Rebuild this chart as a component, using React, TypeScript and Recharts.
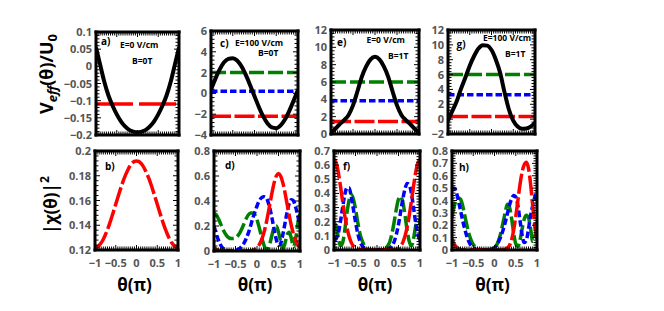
import React from 'react';
import { LineChart, Line, XAxis, YAxis, ReferenceLine } from 'recharts';

// ---------- data ----------
const X_TOP = [-1, -0.9, -0.8, -0.7, -0.6, -0.5, -0.4, -0.3, -0.2, -0.1, 0, 0.1, 0.2, 0.3, 0.4, 0.5, 0.6, 0.7, 0.8, 0.9, 1];
const X_BOT = [-1, -0.95, -0.9, -0.85, -0.8, -0.75, -0.7, -0.65, -0.6, -0.55, -0.5, -0.45, -0.4, -0.35, -0.3, -0.25, -0.2, -0.15, -0.1, -0.05, 0,
  0.05, 0.1, 0.15, 0.2, 0.25, 0.3, 0.35, 0.4, 0.45, 0.5, 0.55, 0.6, 0.65, 0.7, 0.75, 0.8, 0.85, 0.9, 0.95, 1];

// panel a (E=0, B=0)
const A_BLACK = [0.055, 0.005, -0.045, -0.085, -0.115, -0.14, -0.16, -0.175, -0.185, -0.19, -0.192, -0.19, -0.185, -0.175, -0.16, -0.14, -0.115, -0.085, -0.045, 0.005, 0.055];
const A_LEVELS = { red: -0.11 };
// panel c (E=100, B=0)
const C_BLACK = [0.37, 1.4, 2.31, 2.99, 3.32, 3.38, 3.17, 2.61, 1.78, 0.79, -0.27, -1.3, -2.21, -2.89, -3.27, -3.34, -3.07, -2.51, -1.68, -0.69, 0.37];
const C_LEVELS = { green: 2.0, blue: 0.2, red: -2.2 };
// panel e (E=0, B=1T)
const E_BLACK = [0.15, 0.6, 1.15, 1.6, 2.2, 3.3, 4.9, 6.6, 7.8, 8.6, 8.9, 8.6, 7.8, 6.6, 4.9, 3.3, 2.2, 1.6, 1.15, 0.6, 0.15];
const E_LEVELS = { green: 6.0, blue: 3.85, red: 1.45 };
// panel g (E=100, B=1T)
const G_BLACK = [-0.2, 1.1, 2.4, 4.1, 5.6, 7.2, 8.5, 9.5, 9.95, 9.9, 9.3, 8.0, 6.2, 3.6, 1.3, -0.2, -1.0, -1.3, -1.25, -1.0, -0.5];
const G_LEVELS = { green: 6.0, blue: 3.3, red: 0.35 };

// panel b
const B_RED = [0.122, 0.1225, 0.1237, 0.1258, 0.1287, 0.1323, 0.1364, 0.1411, 0.1462, 0.1515, 0.157, 0.1625, 0.1678, 0.1729, 0.1776, 0.1817, 0.1853, 0.1882, 0.1903, 0.1916, 0.192,
  0.1916, 0.1903, 0.1882, 0.1853, 0.1817, 0.1776, 0.1729, 0.1678, 0.1625, 0.157, 0.1515, 0.1462, 0.1411, 0.1364, 0.1323, 0.1287, 0.1258, 0.1237, 0.1225, 0.122];
// panel d
const D_RED = [0.027, 0.014, 0.007, 0.003, 0.002, 0.001, 0.001, 0.001, 0.001, 0.001, 0.001, 0.001, 0.001, 0.001, 0.001, 0.001, 0.002, 0.003, 0.007, 0.014, 0.027,
  0.049, 0.084, 0.134, 0.201, 0.284, 0.376, 0.468, 0.547, 0.6, 0.62, 0.6, 0.547, 0.468, 0.376, 0.284, 0.201, 0.134, 0.084, 0.049, 0.027];
const D_BLUE = [0.2, 0.14, 0.09, 0.05, 0.025, 0.01, 0.004, 0.002, 0.002, 0.003, 0.006, 0.012, 0.022, 0.04, 0.065, 0.1, 0.145, 0.2, 0.26, 0.31, 0.36,
  0.4, 0.425, 0.435, 0.43, 0.4, 0.34, 0.26, 0.17, 0.09, 0.045, 0.06, 0.13, 0.22, 0.31, 0.38, 0.41, 0.4, 0.35, 0.28, 0.2];
const D_GREEN = [0.3, 0.29, 0.26, 0.22, 0.18, 0.145, 0.12, 0.105, 0.1, 0.1, 0.105, 0.12, 0.145, 0.18, 0.22, 0.26, 0.29, 0.305, 0.305, 0.29, 0.25,
  0.19, 0.12, 0.06, 0.02, 0.02, 0.06, 0.13, 0.19, 0.2, 0.15, 0.08, 0.02, 0.06, 0.13, 0.15, 0.1, 0.03, 0.1, 0.22, 0.3];
// panel f
const F_RED = [0.64, 0.616, 0.549, 0.452, 0.345, 0.244, 0.16, 0.097, 0.054, 0.028, 0.013, 0.006, 0.003, 0.001, 0.001, 0.001, 0.001, 0.001, 0.001, 0.001, 0.001,
  0.001, 0.001, 0.001, 0.001, 0.001, 0.001, 0.001, 0.003, 0.006, 0.013, 0.028, 0.054, 0.097, 0.16, 0.244, 0.345, 0.452, 0.549, 0.616, 0.64];
const F_BLUE = [0.07, 0.08, 0.12, 0.2, 0.3, 0.39, 0.44, 0.44, 0.38, 0.29, 0.2, 0.12, 0.065, 0.032, 0.014, 0.005, 0.002, 0.001, 0.001, 0.001, 0.001,
  0.001, 0.001, 0.001, 0.002, 0.005, 0.014, 0.03, 0.06, 0.11, 0.18, 0.27, 0.36, 0.43, 0.47, 0.46, 0.4, 0.3, 0.19, 0.11, 0.07];
const F_GREEN = [0.19, 0.17, 0.09, 0.03, 0.05, 0.14, 0.26, 0.35, 0.39, 0.36, 0.29, 0.2, 0.12, 0.07, 0.035, 0.015, 0.006, 0.003, 0.002, 0.001, 0.001,
  0.001, 0.002, 0.005, 0.012, 0.03, 0.06, 0.12, 0.2, 0.29, 0.36, 0.38, 0.34, 0.25, 0.14, 0.06, 0.03, 0.08, 0.17, 0.21, 0.19];
// panel h
const H_RED = [0.09, 0.05, 0.025, 0.012, 0.005, 0.002, 0.001, 0.001, 0.001, 0.001, 0.001, 0.001, 0.001, 0.001, 0.001, 0.001, 0.001, 0.001, 0.001, 0.001, 0.001,
  0.001, 0.001, 0.001, 0.002, 0.005, 0.015, 0.035, 0.08, 0.16, 0.27, 0.4, 0.53, 0.63, 0.69, 0.71, 0.66, 0.53, 0.35, 0.19, 0.09];
const H_BLUE = [0.48, 0.5, 0.47, 0.4, 0.32, 0.24, 0.17, 0.11, 0.065, 0.035, 0.017, 0.008, 0.003, 0.002, 0.001, 0.001, 0.002, 0.003, 0.006, 0.01, 0.02,
  0.04, 0.07, 0.11, 0.16, 0.22, 0.29, 0.36, 0.41, 0.44, 0.43, 0.36, 0.24, 0.12, 0.06, 0.08, 0.17, 0.28, 0.36, 0.43, 0.48];
const H_GREEN = [0.27, 0.35, 0.4, 0.42, 0.41, 0.36, 0.28, 0.2, 0.13, 0.08, 0.045, 0.025, 0.012, 0.006, 0.003, 0.002, 0.002, 0.003, 0.005, 0.01, 0.02,
  0.04, 0.08, 0.14, 0.22, 0.3, 0.37, 0.35, 0.26, 0.14, 0.05, 0.03, 0.08, 0.17, 0.25, 0.28, 0.26, 0.17, 0.07, 0.1, 0.27];

// tick labels
const X_MAJOR = [-1, -0.5, 0, 0.5, 1];
const A_TICKS = [-0.2, -0.15, -0.1, -0.05, 0, 0.05, 0.1];
const C_TICKS = [-4, -2, 0, 2, 4, 6];
const E_TICKS = [0, 2, 4, 6, 8, 10, 12];
const G_TICKS = [-2, 0, 2, 4, 6, 8, 10, 12];
const B_TICKS = [0.12, 0.14, 0.16, 0.18, 0.2];
const D_TICKS = [0, 0.2, 0.4, 0.6, 0.8];
const F_TICKS = [0, 0.1, 0.2, 0.3, 0.4, 0.5, 0.6, 0.7];
const H_TICKS = [0, 0.1, 0.2, 0.3, 0.4, 0.5, 0.6, 0.7, 0.8];

// ---------- styling ----------
const FONT = "'Open Sans', 'Noto Sans', sans-serif";
const TICK_STYLE: React.CSSProperties = { fontFamily: FONT, fontSize: 11, fontWeight: 700, fill: '#555' };
const RED = '#ff0000';
const BLUE = '#0000ff';
const GREEN = '#008000';
const RED_DASH = '20 3.5';
const BLUE_DASH = '6.5 3';
const GREEN_DASH = '15 4';
const ML = 40, MR = 4, MT = 10, MB = 22;
const FRAME = { stroke: '#000', strokeWidth: 3, strokeLinecap: 'square' as const };

const fmt = (v: number) => String(v).replace('-', '\u2212');
const near = (v: number, arr: number[]) => arr.some((m) => Math.abs(m - v) < 1e-7);
const steps = (lo: number, hi: number, st: number) => {
  const out: number[] = [];
  const n = Math.round((hi - lo) / st);
  for (let i = 0; i <= n; i++) out.push(Number((lo + i * st).toFixed(6)));
  return out;
};

type Series = { key: string; values: number[]; color: string; dash?: string; width: number };
type Level = { y: number; color: string; dash: string };

interface PanelProps {
  left: number; top: number; w: number; h: number;
  xs: number[];
  series: Series[];
  levels?: Level[];
  yDomain: [number, number];
  yTicks: number[];
  yMinor: number;
  showX: boolean;
}

function Panel(p: PanelProps) {
  const data = p.xs.map((x, i) => {
    const row: Record<string, number> = { x };
    p.series.forEach((s) => { row[s.key] = s.values[i]; });
    return row;
  });
  const xAll = steps(-1, 1, 0.05);
  const yAll = steps(p.yDomain[0], p.yDomain[1], p.yMinor);

  const xTick = (side: 'bottom' | 'top', labels: boolean) => (props: any) => {
    const { x, y, payload } = props;
    const v = payload.value;
    const major = near(v, X_MAJOR);
    const len = major ? 5 : 3.5;
    const d = side === 'bottom' ? -1 : 1;
    return (
      <g>
        <line x1={x} x2={x} y1={y} y2={y + d * len} stroke="#000" strokeWidth={1} />
        {labels && major ? <text x={x} y={y + 17} textAnchor="middle" style={TICK_STYLE}>{fmt(v)}</text> : null}
      </g>
    );
  };
  const yTick = (side: 'left' | 'right') => (props: any) => {
    const { x, y, payload } = props;
    const v = payload.value;
    const major = near(v, p.yTicks);
    const len = major ? 5 : 3.5;
    const d = side === 'left' ? 1 : -1;
    return (
      <g>
        <line x1={x} x2={x + d * len} y1={y} y2={y} stroke="#000" strokeWidth={1} />
        {side === 'left' && major ? <text x={x - 4} y={y + 4} textAnchor="end" style={TICK_STYLE}>{fmt(v)}</text> : null}
      </g>
    );
  };

  return (
    <div style={{ position: 'absolute', left: p.left - ML, top: p.top - MT }}>
      <LineChart width={p.w + ML + MR} height={p.h + MT + MB} data={data} margin={{ top: 0, right: 0, bottom: 0, left: 0 }}>
        <XAxis xAxisId="b" dataKey="x" type="number" domain={[-1, 1]} ticks={xAll} interval={0} height={MB}
          tickSize={0} tickMargin={0} tickLine={false} axisLine={FRAME} tick={xTick('bottom', p.showX)} allowDataOverflow />
        <XAxis xAxisId="t" orientation="top" dataKey="x" type="number" domain={[-1, 1]} ticks={xAll} interval={0} height={MT}
          tickSize={0} tickMargin={0} tickLine={false} axisLine={FRAME} tick={xTick('top', false)} allowDataOverflow />
        <YAxis yAxisId="l" type="number" domain={p.yDomain} ticks={yAll} interval={0} width={ML}
          tickSize={0} tickMargin={0} tickLine={false} axisLine={FRAME} tick={yTick('left')} allowDataOverflow />
        <YAxis yAxisId="r" orientation="right" type="number" domain={p.yDomain} ticks={yAll} interval={0} width={MR}
          tickSize={0} tickMargin={0} tickLine={false} axisLine={FRAME} tick={yTick('right')} allowDataOverflow />
        {(p.levels || []).map((l, i) => (
          <ReferenceLine key={'l' + i} xAxisId="b" yAxisId="l" y={l.y} stroke={l.color} strokeWidth={3.5} strokeDasharray={l.dash} />
        ))}
        {p.series.map((s) => (
          <Line key={s.key} xAxisId="b" yAxisId="l" type="monotone" dataKey={s.key} stroke={s.color} strokeWidth={s.width}
            strokeDasharray={s.dash} dot={false} activeDot={false} isAnimationActive={false} />
        ))}
      </LineChart>
    </div>
  );
}

const black = (v: number[]): Series => ({ key: 'black', values: v, color: '#000', width: 4 });
const lv = (L: { green?: number; blue?: number; red?: number }): Level[] => {
  const out: Level[] = [];
  if (L.green !== undefined) out.push({ y: L.green, color: GREEN, dash: GREEN_DASH });
  if (L.blue !== undefined) out.push({ y: L.blue, color: BLUE, dash: BLUE_DASH });
  if (L.red !== undefined) out.push({ y: L.red, color: RED, dash: RED_DASH });
  return out;
};
const psi = (r: number[], b?: number[], g?: number[]): Series[] => {
  const out: Series[] = [];
  if (g) out.push({ key: 'green', values: g, color: GREEN, dash: GREEN_DASH, width: 3.5 });
  if (b) out.push({ key: 'blue', values: b, color: BLUE, dash: BLUE_DASH, width: 3.5 });
  out.push({ key: 'red', values: r, color: RED, dash: RED_DASH, width: 3.5 });
  return out;
};

const NOTES = [
  { t: 'a)', x: 101, y: 45, s: 10 }, { t: 'E=0 V/cm', x: 120, y: 48, s: 8.5 }, { t: 'B=0T', x: 132, y: 64, s: 8.5 },
  { t: 'c)', x: 220, y: 47, s: 10 }, { t: 'E=100 V/cm', x: 235, y: 46, s: 8.5 }, { t: 'B=0T', x: 258, y: 56, s: 8.5 },
  { t: 'e)', x: 337, y: 45.5, s: 10 }, { t: 'E=0 V/cm', x: 366.5, y: 42.5, s: 8.5 }, { t: 'B=1T', x: 388, y: 59, s: 8.5 },
  { t: 'g)', x: 456.5, y: 48, s: 10 }, { t: 'E=100 V/cm', x: 483, y: 41, s: 8.5 }, { t: 'B=1T', x: 505, y: 56.5, s: 8.5 },
  { t: 'b)', x: 105, y: 169.5, s: 10 }, { t: 'd)', x: 225, y: 168.5, s: 10 }, { t: 'f)', x: 343, y: 170, s: 10 }, { t: 'h)', x: 459, y: 170.5, s: 10 },
];
const X_TITLES = [134.5, 255, 375, 492.5];

export default function App() {
  return (
    <div style={{ position: 'absolute', left: 0, top: 0, width: 664, height: 311, background: '#fff', overflow: 'hidden' }}>
      <Panel left={96} top={32} w={83} h={103} xs={X_TOP} series={[black(A_BLACK)]}
        levels={[{ y: A_LEVELS.red, color: RED, dash: '37 6' }]} yDomain={[-0.2, 0.1]} yTicks={A_TICKS} yMinor={0.01} showX={false} />
      <Panel left={211} top={31} w={87} h={104} xs={X_TOP} series={[black(C_BLACK)]} levels={lv(C_LEVELS)}
        yDomain={[-4, 6]} yTicks={C_TICKS} yMinor={0.4} showX={false} />
      <Panel left={331} top={29.5} w={88} h={104} xs={X_TOP} series={[black(E_BLACK)]} levels={lv(E_LEVELS)}
        yDomain={[0, 12]} yTicks={E_TICKS} yMinor={0.4} showX={false} />
      <Panel left={448} top={29.5} w={87} h={104} xs={X_TOP} series={[black(G_BLACK)]} levels={lv(G_LEVELS)}
        yDomain={[-2, 12]} yTicks={G_TICKS} yMinor={0.4} showX={false} />

      <Panel left={95} top={151} w={83} h={99} xs={X_BOT} series={psi(B_RED)}
        yDomain={[0.12, 0.2]} yTicks={B_TICKS} yMinor={0.004} showX={true} />
      <Panel left={214} top={151} w={86} h={100} xs={X_BOT} series={psi(D_RED, D_BLUE, D_GREEN)}
        yDomain={[0, 0.8]} yTicks={D_TICKS} yMinor={0.04} showX={true} />
      <Panel left={334} top={151} w={86} h={99} xs={X_BOT} series={psi(F_RED, F_BLUE, F_GREEN)}
        yDomain={[0, 0.7]} yTicks={F_TICKS} yMinor={0.02} showX={true} />
      <Panel left={452} top={151} w={85} h={99} xs={X_BOT} series={psi(H_RED, H_BLUE, H_GREEN)}
        yDomain={[0, 0.8]} yTicks={H_TICKS} yMinor={0.02} showX={true} />

      <svg width={664} height={311} style={{ position: 'absolute', left: 0, top: 0, pointerEvents: 'none' }}>
        <text transform="translate(53,74) rotate(-90)" textAnchor="middle" fontFamily={FONT} fontWeight={700} fontSize={18} fill="#000">
          V<tspan fontSize={13} fontStyle="italic" dy={4}>eff</tspan><tspan dy={-4}>(θ)/U</tspan><tspan fontSize={13} dy={4}>0</tspan>
        </text>
        <text transform="translate(57,205) rotate(-90)" textAnchor="middle" fontFamily={FONT} fontWeight={700} fontSize={17} fill="#000">
          |χ(θ)|<tspan fontSize={12} dy={-8}>2</tspan>
        </text>
        {X_TITLES.map((x, i) => (
          <text key={'xt' + i} x={x} y={291} textAnchor="middle" fontFamily={FONT} fontWeight={700} fontSize={17} fill="#000">θ(π)</text>
        ))}
        {NOTES.map((n, i) => (
          <text key={'n' + i} x={n.x} y={n.y} fontFamily={FONT} fontWeight={700} fontSize={n.s} fill="#000">{n.t}</text>
        ))}
      </svg>
    </div>
  );
}
